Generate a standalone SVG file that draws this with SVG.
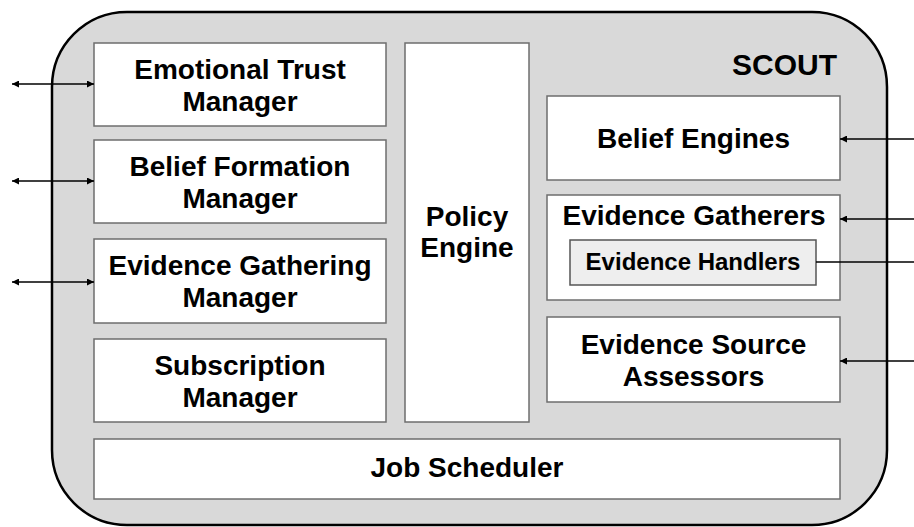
<svg xmlns="http://www.w3.org/2000/svg" width="914" height="527" viewBox="0 0 914 527">
<style>
.box{fill:#ffffff;stroke:#6e6e6e;stroke-width:1.5}
.t{font-family:"Liberation Sans",Arial,sans-serif;font-weight:bold;font-size:28px;fill:#000;text-anchor:middle}
.s{font-size:24px}
.c{stroke:#000;stroke-width:1.4;fill:none}
</style>
<defs>
<marker id="ah" viewBox="0 0 10 10" refX="10" refY="5" markerWidth="8" markerHeight="7" markerUnits="userSpaceOnUse" orient="auto-start-reverse">
<path d="M0,0 L10,5 L0,10 z" fill="#000"/>
</marker>
</defs>
<g id="scout">
<rect x="52" y="12" width="835" height="513" rx="75" ry="75" fill="#d9d9d9" stroke="#000" stroke-width="2.5"/>
<text class="t" x="837" y="75" style="text-anchor:end;font-size:30px">SCOUT</text>
</g>
<g id="emotional-trust-manager">
<rect class="box" x="94" y="43" width="292" height="83"/>
<text class="t" x="240" y="78.5">Emotional Trust</text>
<text class="t" x="240" y="110.5">Manager</text>
</g>
<g id="belief-formation-manager">
<rect class="box" x="94" y="140" width="292" height="83"/>
<text class="t" x="240" y="175.5">Belief Formation</text>
<text class="t" x="240" y="207.5">Manager</text>
</g>
<g id="evidence-gathering-manager">
<rect class="box" x="94" y="239" width="292" height="84"/>
<text class="t" x="240" y="275">Evidence Gathering</text>
<text class="t" x="240" y="307">Manager</text>
</g>
<g id="subscription-manager">
<rect class="box" x="94" y="339" width="292" height="83"/>
<text class="t" x="240" y="374.5">Subscription</text>
<text class="t" x="240" y="406.5">Manager</text>
</g>
<g id="policy-engine">
<rect class="box" x="405" y="43" width="124" height="379"/>
<text class="t" x="467" y="226">Policy</text>
<text class="t" x="467" y="257">Engine</text>
</g>
<g id="belief-engines">
<rect class="box" x="547" y="96" width="293" height="84"/>
<text class="t" x="693.5" y="148">Belief Engines</text>
</g>
<g id="evidence-gatherers">
<rect class="box" x="547" y="195" width="293" height="105"/>
<text class="t" x="694" y="225">Evidence Gatherers</text>
</g>
<g id="evidence-handlers">
<rect x="570" y="240" width="246" height="45" fill="#eeeeee" stroke="#555" stroke-width="1.5"/>
<text class="t s" x="693" y="270">Evidence Handlers</text>
</g>
<g id="evidence-source-assessors">
<rect class="box" x="547" y="317" width="293" height="85"/>
<text class="t" x="693.5" y="353.5">Evidence Source</text>
<text class="t" x="693.5" y="385.5">Assessors</text>
</g>
<g id="job-scheduler">
<rect class="box" x="94" y="439" width="746" height="60"/>
<text class="t" x="467" y="477">Job Scheduler</text>
</g>
<g id="connectors">
<line class="c" x1="12" y1="84" x2="94" y2="84" marker-start="url(#ah)" marker-end="url(#ah)"/>
<line class="c" x1="12" y1="181" x2="94" y2="181" marker-start="url(#ah)" marker-end="url(#ah)"/>
<line class="c" x1="12" y1="282" x2="94" y2="282" marker-start="url(#ah)" marker-end="url(#ah)"/>
<line class="c" x1="914" y1="139" x2="840" y2="139" marker-end="url(#ah)"/>
<line class="c" x1="914" y1="219" x2="840" y2="219" marker-end="url(#ah)"/>
<line class="c" x1="914" y1="262" x2="816" y2="262"/>
<line class="c" x1="914" y1="361" x2="840" y2="361" marker-end="url(#ah)"/>
</g>
</svg>
